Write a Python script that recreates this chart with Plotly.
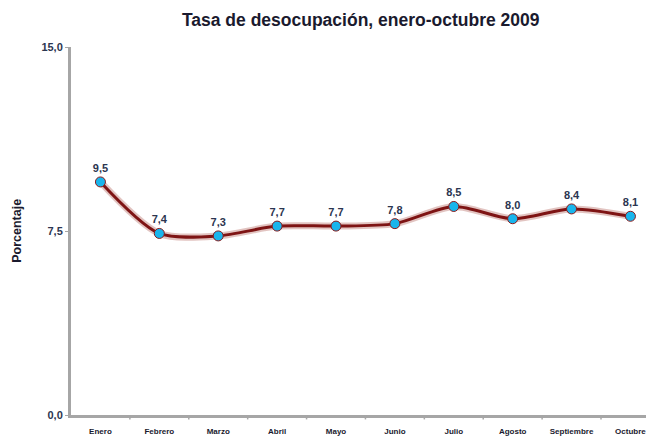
import plotly.graph_objects as go

meses = ["Enero", "Febrero", "Marzo", "Abril", "Mayo", "Junio", "Julio", "Agosto", "Septiembre", "Octubre"]
tasa = [9.5, 7.4, 7.3, 7.7, 7.7, 7.8, 8.5, 8.0, 8.4, 8.1]
y_ticks = [0, 7.5, 15]
titulo = "Tasa de desocupación, enero-octubre 2009"
y_titulo = "Porcentaje"

FONT = "Liberation Sans Narrow, Liberation Sans, Arial, sans-serif"
xs = list(range(len(meses)))

fig = go.Figure()
# soft shadow under the line
fig.add_trace(go.Scatter(
    x=xs, y=tasa, mode="lines", line=dict(color="rgba(160,60,50,0.3)", width=7, shape="spline", smoothing=0.8),
    hoverinfo="skip", showlegend=False))
fig.add_trace(go.Scatter(
    x=xs, y=tasa, mode="lines+markers+text",
    line=dict(color="#7E1414", width=3, shape="spline", smoothing=0.8),
    marker=dict(size=10, color="#19B5EC", line=dict(color="#8B1A1A", width=1)),
    text=[f"{v:.1f}".replace(".", ",") for v in tasa],
    textposition="top center",
    textfont=dict(family=FONT, size=11, color="#2B3550", weight="bold"),
    showlegend=False))

# the page body adds an 8px margin; size the figure so the plot lands where the reference has it
fig.update_layout(
    width=646, height=431,
    margin=dict(l=63, r=0, t=39, b=24),
    paper_bgcolor="white", plot_bgcolor="white",
    separators=",.",
    title=dict(text=f"<b>{titulo}</b>", x=0.546, xanchor="center", y=0.972, yanchor="middle",
               font=dict(family=FONT, size=17.5, color="#1a1a2e")),
    xaxis=dict(
        tickmode="array", tickvals=xs, ticktext=meses,
        range=[-0.5, 9.4], showgrid=False, zeroline=False,
        showline=True, linecolor="#A6A6A6", linewidth=3,
        ticks="", ticklabelstandoff=6,
        tickfont=dict(family=FONT, size=8, color="#1a1a2e", weight="bold"),
    ),
    yaxis=dict(
        tickmode="array", tickvals=y_ticks, tickformat=".1f",
        range=[0, 15], showgrid=False, zeroline=False,
        showline=True, linecolor="#A6A6A6", linewidth=3,
        ticks="outside", ticklen=3, tickcolor="#A6A6A6",
        tickfont=dict(family=FONT, size=11, color="#2B3550", weight="bold"),
    ),
    annotations=[dict(text=f"<b>{y_titulo}</b>", textangle=-90, xref="paper", yref="paper",
                      x=-0.093, y=0.5, xanchor="center", yanchor="middle", showarrow=False,
                      font=dict(family=FONT, size=12.5, color="#1a1a2e"))],
)
# boundary ticks between categories on x axis
for b in [i + 0.5 for i in range(len(meses) - 1)]:
    fig.add_shape(type="line", xref="x", yref="paper", x0=b, x1=b, y0=0, y1=-0.012,
                  line=dict(color="#A6A6A6", width=1.5))

fig.write_html("out.html")
